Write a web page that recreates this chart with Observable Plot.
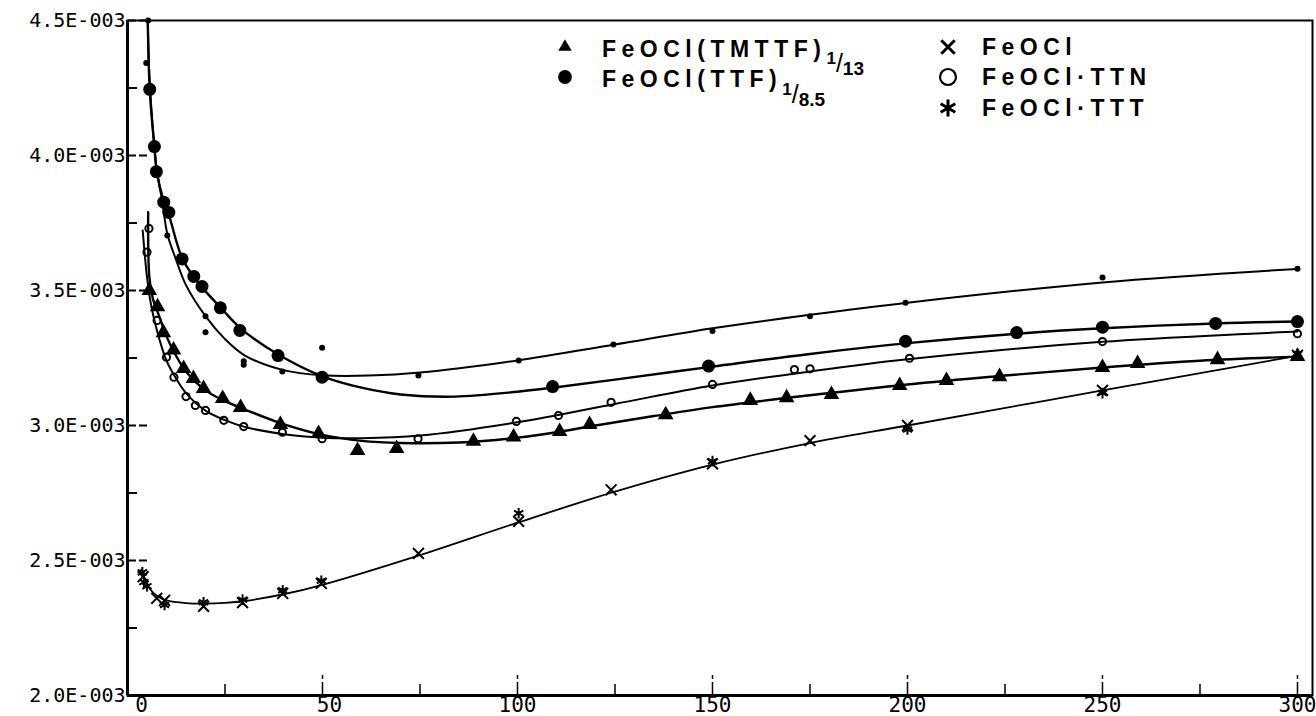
<!DOCTYPE html>
<html>
<head>
<meta charset="utf-8">
<script src="https://cdn.jsdelivr.net/npm/d3@7"></script>
<script src="https://cdn.jsdelivr.net/npm/@observablehq/plot@0.6"></script>
<style>
html, body { margin: 0; padding: 0; background: #fff; }
#wrap { position: relative; width: 1316px; height: 716px; overflow: hidden; background: #fff; }
.leg { position: absolute; font-family: "Liberation Sans", Arial, sans-serif; font-weight: bold;
       font-size: 23px; letter-spacing: 5.5px; color: #000; white-space: nowrap; line-height: 1; }
.leg span { position: relative; display: inline-block; letter-spacing: 0; line-height: 1; }
.legsym { position: absolute; }
</style>
</head>
<body>
<div id="wrap"></div>
<script>
// ---- data (x: temperature, y: values in units of 1E-003) ----
// FeOCl(TTF)1/8.5 – large filled circles
const ttfX = [5.7, 6.9, 7.4, 9.3, 10.6, 14, 17, 19.1, 23.8, 28.8, 38.6, 49.9, 109, 149, 199.5, 228, 250, 279, 300];
const ttfY = [4.245, 4.033, 3.94, 3.827, 3.789, 3.617, 3.552, 3.515, 3.436, 3.352, 3.259, 3.179, 3.144, 3.22, 3.312, 3.344, 3.364, 3.378, 3.385];
const ttfCurveX = [5.2, 5.7, 6.9, 7.5, 9.3, 10.6, 14, 17, 19.5, 24, 29, 39, 50, 60, 70, 84, 100, 109, 125, 150, 175, 200, 228, 250, 279, 300];
const ttfCurveY = [4.5, 4.245, 4.03, 3.94, 3.83, 3.78, 3.62, 3.55, 3.505, 3.435, 3.36, 3.26, 3.182, 3.14, 3.115, 3.107, 3.125, 3.14, 3.17, 3.218, 3.265, 3.305, 3.34, 3.36, 3.378, 3.385];

// unlabelled series – small dots
const dotsX = [5.3, 4.8, 10.2, 20, 20, 29.8, 29.8, 39.7, 49.9, 74.6, 100.3, 124.6, 150, 175, 199.5, 250, 300];
const dotsY = [4.5, 4.343, 3.704, 3.405, 3.345, 3.238, 3.225, 3.2, 3.288, 3.185, 3.241, 3.30, 3.35, 3.405, 3.455, 3.548, 3.581];
const dotsCurveX = [5.2, 5.6, 6.5, 7.5, 9, 10.2, 12.3, 15, 20, 25, 30, 40, 50, 62, 75, 100, 125, 150, 175, 200, 250, 300];
const dotsCurveY = [4.5, 4.3, 4.1, 3.95, 3.82, 3.71, 3.62, 3.52, 3.405, 3.32, 3.26, 3.205, 3.186, 3.185, 3.196, 3.241, 3.30, 3.36, 3.41, 3.455, 3.53, 3.58];

// FeOCl(TMTTF)1/13 – triangles
const tmX = [5.6, 7.7, 9.2, 11.8, 14.4, 16.9, 19.5, 24.4, 29, 39.2, 49, 59, 69, 88.7, 99, 110.8, 118.5, 138, 159.7, 169, 180.5, 198, 210, 223.6, 250, 259, 279.5, 300];
const tmY = [3.5, 3.44, 3.344, 3.28, 3.211, 3.174, 3.137, 3.1, 3.067, 3.004, 2.97, 2.907, 2.915, 2.942, 2.957, 2.978, 3.004, 3.04, 3.093, 3.103, 3.115, 3.148, 3.167, 3.181, 3.215, 3.23, 3.244, 3.256];
const tmCurveX = [5.3, 5.6, 6.5, 8, 10, 12, 15, 20, 25, 30, 40, 50, 60, 70, 85, 100, 110, 120, 135, 150, 175, 200, 225, 250, 275, 300];
const tmCurveY = [3.79, 3.55, 3.47, 3.41, 3.33, 3.27, 3.2, 3.13, 3.09, 3.06, 3.005, 2.965, 2.943, 2.935, 2.937, 2.955, 2.975, 3.0, 3.035, 3.068, 3.112, 3.152, 3.185, 3.215, 3.24, 3.255];

// FeOCl·TTN – open circles
const ttnX = [5.5, 5, 7.6, 10, 11.9, 15, 17.4, 20, 24.7, 29.8, 39.7, 49.9, 74.5, 99.7, 110.5, 124, 150, 171, 175, 200.5, 250, 300];
const ttnY = [3.73, 3.642, 3.389, 3.253, 3.179, 3.107, 3.074, 3.056, 3.019, 2.996, 2.975, 2.951, 2.951, 3.015, 3.037, 3.086, 3.152, 3.207, 3.21, 3.249, 3.311, 3.34];
const ttnCurveX = [3.9, 5, 6, 7.5, 10, 12, 15, 20, 25, 30, 40, 50, 60, 75, 100, 125, 150, 175, 200, 250, 300];
const ttnCurveY = [3.722, 3.55, 3.45, 3.355, 3.24, 3.185, 3.12, 3.055, 3.02, 2.995, 2.968, 2.955, 2.953, 2.963, 3.012, 3.08, 3.148, 3.20, 3.245, 3.31, 3.348];

// FeOCl – crosses, FeOCl·TTT – asterisks (shared fitted curve)
const feoclX = [4, 7.5, 9.5, 19.5, 29.5, 39.8, 49.7, 74.6, 100.3, 124, 150, 175, 200, 250, 300];
const feoclY = [2.44, 2.36, 2.352, 2.33, 2.344, 2.378, 2.415, 2.526, 2.645, 2.762, 2.858, 2.944, 3.0, 3.13, 3.26];
const tttX = [3.8, 4.2, 5, 9.5, 19.5, 29.5, 39.8, 49.7, 100.3, 150, 200, 250, 300];
const tttY = [2.456, 2.42, 2.405, 2.335, 2.345, 2.355, 2.39, 2.425, 2.675, 2.868, 2.985, 3.12, 3.265];
const bottomCurveX = [3.5, 4.5, 6, 8, 10, 15, 20, 25, 30, 40, 50, 75, 100, 125, 150, 175, 200, 250, 300];
const bottomCurveY = [2.465, 2.43, 2.39, 2.365, 2.352, 2.342, 2.34, 2.343, 2.35, 2.375, 2.41, 2.52, 2.64, 2.755, 2.855, 2.935, 3.0, 3.13, 3.258];

// ticks
const xTicks = [0, 50, 100, 150, 200, 250, 300];
const xMinorTicks = [25, 75, 125, 175, 225, 275];
const yTicks = [2.0, 2.5, 3.0, 3.5, 4.0, 4.5];
const yMinorTicks = [2.25, 2.75, 3.25, 3.75, 4.25];
const yTickLabels = ["2.0E-003", "2.5E-003", "3.0E-003", "3.5E-003", "4.0E-003", "4.5E-003"];

// legend
const legendEntries = [
  {symbol: "triangle", label: "FeOCl(TMTTF)", num: "1", den: "13"},
  {symbol: "circle",   label: "FeOCl(TTF)",   num: "1", den: "8.5"},
  {symbol: "times",    label: "FeOCl"},
  {symbol: "ring",     label: "FeOCl·TTN"},
  {symbol: "asterisk", label: "FeOCl·TTT"}
];

// ---- build ----
const S = 1e-3;
const pts = (xs, ys) => xs.map((x, i) => ({x, y: ys[i] * S}));
const labelMap = new Map(yTicks.map((v, i) => [v.toFixed(2), yTickLabels[i]]));

const lineOpts = {x: "x", y: "y", curve: "catmull-rom", stroke: "black", strokeWidth: 2};
const xLabelOpts = {tickSize: 0, tickPadding: 2, label: null, tickFormat: d => String(d), letterSpacing: "2px"};

const chart = Plot.plot({
  width: 1316,
  height: 716,
  marginLeft: 127,
  marginRight: 4,
  marginTop: 20,
  marginBottom: 21,
  x: {domain: [0, 303.85], label: null},
  y: {domain: [2.0 * S, 4.5 * S], label: null},
  style: {fontFamily: "'DejaVu Sans Mono', monospace", fontSize: "21px", color: "#000", background: "#fff", overflow: "visible"},
  marks: [
    // tick labels
    Plot.axisY({ticks: yTicks.map(v => v * S), tickSize: 0, tickPadding: 2, label: null, fontSize: 20,
      tickFormat: d => labelMap.get((d / S).toFixed(2)), letterSpacing: "0.4px"}),
    Plot.axisX({ticks: xTicks.slice(0, 1), dx: 14, ...xLabelOpts}),
    Plot.axisX({ticks: xTicks.slice(1, 2), dx: 7, ...xLabelOpts}),
    Plot.axisX({ticks: xTicks.slice(2), dx: 0, ...xLabelOpts}),
    // inward ticks
    Plot.axisY({ticks: yTicks.map(v => v * S), tickSize: 20, dx: 20, text: null, label: null, strokeWidth: 2, strokeDasharray: "8,3"}),
    Plot.axisY({ticks: yMinorTicks.map(v => v * S), tickSize: 10, dx: 10, text: null, label: null, strokeWidth: 2}),
    Plot.axisX({ticks: xTicks, tickSize: 20, dy: -20, text: null, label: null, strokeWidth: 1.5, strokeDasharray: "4,3,13"}),
    Plot.axisX({ticks: xMinorTicks, tickSize: 11, dy: -11, text: null, label: null, strokeWidth: 1.5}),
    // frame
    Plot.frame({strokeWidth: 2}),
    Plot.ruleX([0], {strokeWidth: 3}),
    Plot.ruleY([2.0 * S], {strokeWidth: 3}),
    // fitted curves
    Plot.line(pts(dotsCurveX, dotsCurveY), lineOpts),
    Plot.line(pts(ttfCurveX, ttfCurveY), {...lineOpts, strokeWidth: 2.4}),
    Plot.line(pts(ttnCurveX, ttnCurveY), lineOpts),
    Plot.line(pts(tmCurveX, tmCurveY), {...lineOpts, strokeWidth: 2.4}),
    Plot.line(pts(bottomCurveX, bottomCurveY), {...lineOpts, strokeWidth: 1.8}),
    // markers
    Plot.dot(pts(dotsX, dotsY), {x: "x", y: "y", r: 3, fill: "black"}),
    Plot.dot(pts(ttfX, ttfY), {x: "x", y: "y", r: 6.5, fill: "black"}),
    Plot.dot(pts(tmX, tmY), {x: "x", y: "y", symbol: "triangle", r: 5.8, fill: "black"}),
    Plot.dot(pts(ttnX, ttnY), {x: "x", y: "y", r: 3.6, fill: "none", stroke: "black", strokeWidth: 2}),
    Plot.dot(pts(feoclX, feoclY), {x: "x", y: "y", symbol: "times", r: 5, fill: "none", stroke: "black", strokeWidth: 2}),
    Plot.dot(pts(tttX, tttY), {x: "x", y: "y", symbol: "asterisk", r: 5, fill: "none", stroke: "black", strokeWidth: 2})
  ]
});

const wrap = document.getElementById("wrap");
wrap.appendChild(chart);

// legend overlay (HTML)
const layout = [
  {cx: 565, cy: 47, tx: 602, top: 36, numTop: 6.7, slTop: 14.5, denTop: 17.5},
  {cx: 565, cy: 77, tx: 602, top: 66, numTop: 7.7, slTop: 15.5, denTop: 18.5},
  {cx: 948, cy: 47, tx: 982, top: 36},
  {cx: 948, cy: 77, tx: 982, top: 66},
  {cx: 948, cy: 108, tx: 982, top: 97}
];
const symbolPath = {
  triangle: d3.symbol(d3.symbolTriangle, 78)(),
  circle: d3.symbol(d3.symbolCircle, 150)(),
  times: d3.symbol(d3.symbolTimes, 120)(),
  ring: d3.symbol(d3.symbolCircle, 200)(),
  asterisk: d3.symbol(d3.symbolAsterisk, 200)()
};
legendEntries.forEach((e, i) => {
  const L = layout[i];
  const svg = d3.create("svg").attr("class", "legsym").attr("width", 30).attr("height", 30)
    .style("left", (L.cx - 15) + "px").style("top", (L.cy - 15) + "px");
  const p = svg.append("path").attr("d", symbolPath[e.symbol]).attr("transform", "translate(15,15)");
  if (e.symbol === "triangle" || e.symbol === "circle") p.attr("fill", "black");
  else p.attr("fill", "none").attr("stroke", "black").attr("stroke-width", e.symbol === "ring" ? 2.2 : 3);
  wrap.appendChild(svg.node());

  const div = document.createElement("div");
  div.className = "leg";
  div.style.left = L.tx + "px";
  div.style.top = L.top + "px";
  div.appendChild(document.createTextNode(e.label));
  if (e.num) {
    const n = document.createElement("span");
    n.textContent = e.num;
    n.style.fontSize = "17px"; n.style.top = L.numTop + "px"; n.style.marginLeft = "0px";
    const sl = document.createElement("span");
    sl.textContent = "/";
    sl.style.fontSize = "25px"; sl.style.fontWeight = "normal"; sl.style.top = (L.slTop) + "px"; sl.style.marginLeft = "0px";
    const dd = document.createElement("span");
    dd.textContent = e.den;
    dd.style.fontSize = "19px"; dd.style.top = L.denTop + "px"; dd.style.marginLeft = "0px";
    div.appendChild(n); div.appendChild(sl); div.appendChild(dd);
  }
  wrap.appendChild(div);
});
</script>
</body>
</html>
